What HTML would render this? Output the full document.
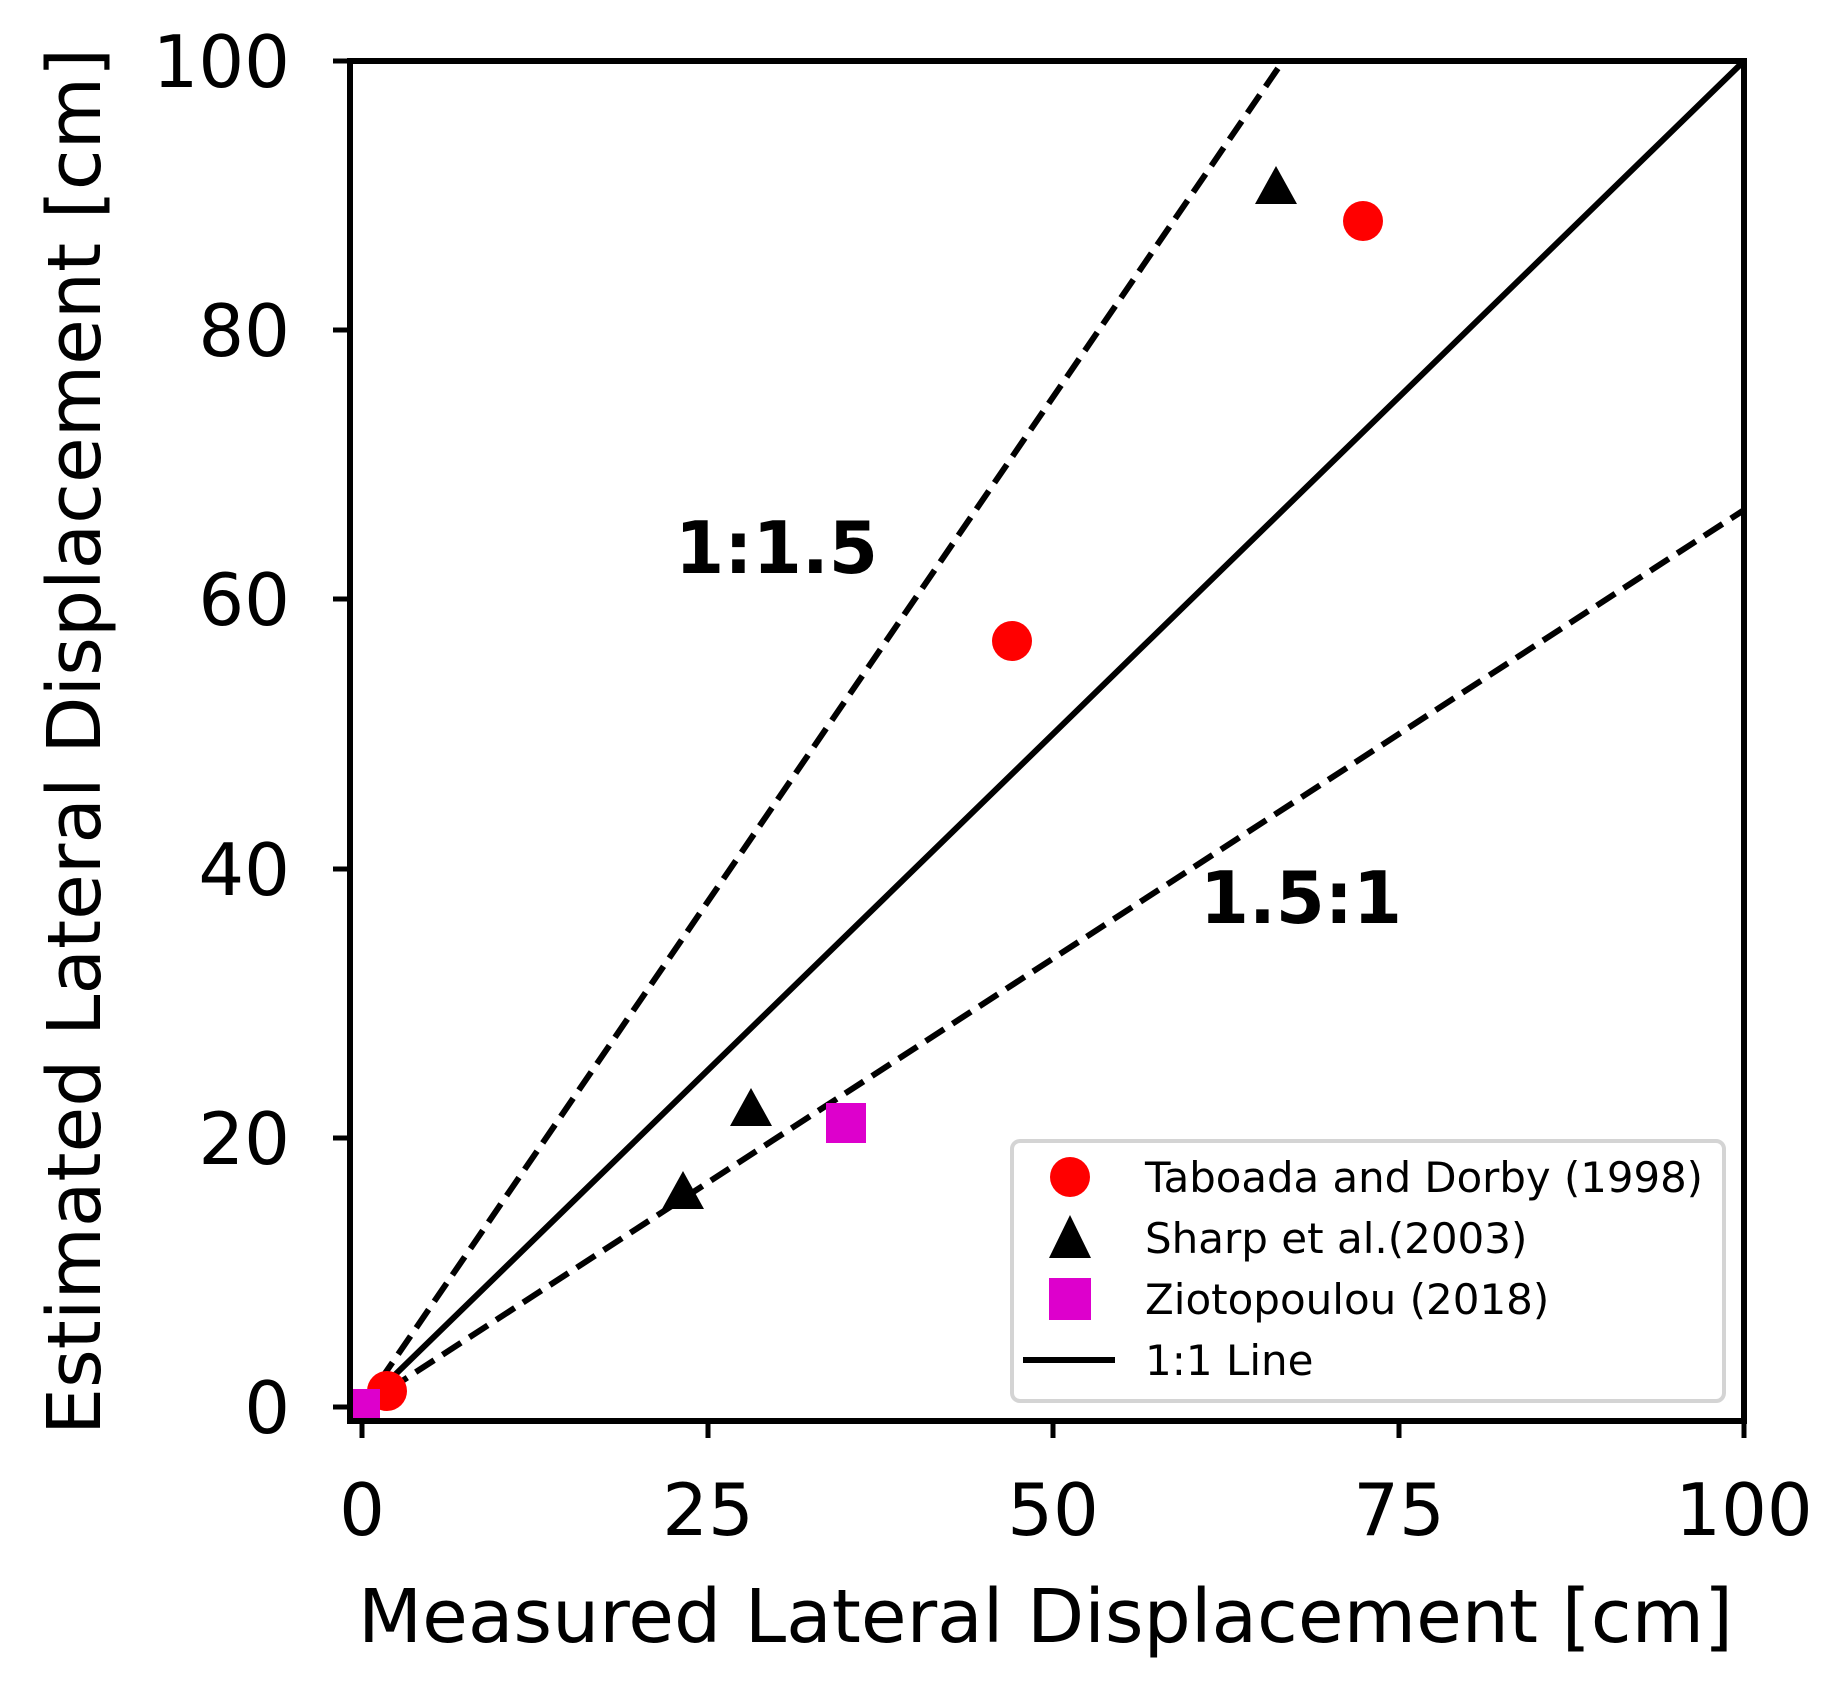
<!DOCTYPE html>
<html><head><meta charset="utf-8"><style>
html,body{margin:0;padding:0;background:#fff;}
svg{display:block;}
text{font-family:"DejaVu Sans","Liberation Sans",sans-serif;fill:#000;}
</style></head><body>
<svg width="1843" height="1693" viewBox="0 0 1843 1693" xmlns="http://www.w3.org/2000/svg">
<defs><clipPath id="c"><rect x="350" y="61" width="1394" height="1360"/></clipPath></defs>
<g clip-path="url(#c)">
<line x1="362" y1="1407" x2="1744" y2="61" stroke="#000" stroke-width="6"/>
<line x1="362" y1="1407" x2="1283" y2="61" stroke="#000" stroke-width="6" stroke-dasharray="22,10"/>
<line x1="362" y1="1407" x2="1744" y2="510" stroke="#000" stroke-width="6" stroke-dasharray="22,10"/>
<circle cx="1363" cy="221" r="20" fill="#ff0000"/>
<circle cx="1012" cy="641" r="20" fill="#ff0000"/>
<circle cx="387" cy="1391" r="20" fill="#ff0000"/>
<polygon points="1276,166 1297,204 1255,204" fill="#000"/>
<polygon points="751,1088 772,1126 730,1126" fill="#000"/>
<polygon points="683,1171 704,1209 662,1209" fill="#000"/>
<rect x="826" y="1103" width="40" height="40" fill="#dd00cc"/>
<rect x="344" y="1389" width="36" height="36" fill="#dd00cc"/>
</g>
<rect x="350" y="61" width="1394" height="1360" fill="none" stroke="#000" stroke-width="6"/>
<g stroke="#000" stroke-width="5">
<line x1="333" y1="1407" x2="350" y2="1407"/>
<line x1="333" y1="1138" x2="350" y2="1138"/>
<line x1="333" y1="869" x2="350" y2="869"/>
<line x1="333" y1="599" x2="350" y2="599"/>
<line x1="333" y1="330" x2="350" y2="330"/>
<line x1="333" y1="61" x2="350" y2="61"/>
<line x1="362" y1="1421" x2="362" y2="1438"/>
<line x1="708" y1="1421" x2="708" y2="1438"/>
<line x1="1053" y1="1421" x2="1053" y2="1438"/>
<line x1="1399" y1="1421" x2="1399" y2="1438"/>
<line x1="1744" y1="1421" x2="1744" y2="1438"/>
</g>
<g font-size="72" text-anchor="end">
<text x="290" y="1433">0</text>
<text x="290" y="1164">20</text>
<text x="290" y="895">40</text>
<text x="290" y="625">60</text>
<text x="290" y="356">80</text>
<text x="290" y="87">100</text>
</g>
<g font-size="72" text-anchor="middle">
<text x="362" y="1535">0</text>
<text x="708" y="1535">25</text>
<text x="1053" y="1535">50</text>
<text x="1399" y="1535">75</text>
<text x="1744" y="1535">100</text>
</g>
<text x="358" y="1642" font-size="74" textLength="1375" lengthAdjust="spacingAndGlyphs">Measured Lateral Displacement [cm]</text>
<text transform="translate(100,1435) rotate(-90)" font-size="74" textLength="1387" lengthAdjust="spacingAndGlyphs">Estimated Lateral Displacement [cm]</text>
<text x="675" y="573" font-size="72" font-weight="bold" textLength="203" lengthAdjust="spacingAndGlyphs">1:1.5</text>
<text x="1200" y="923" font-size="72" font-weight="bold" textLength="202" lengthAdjust="spacingAndGlyphs">1.5:1</text>
<rect x="1012" y="1141" width="712" height="260" rx="8" fill="#fff" stroke="#d4d4d4" stroke-width="4"/>
<circle cx="1070" cy="1177" r="20" fill="#ff0000"/>
<polygon points="1070,1215 1091,1258 1049,1258" fill="#000"/>
<rect x="1049" y="1278" width="42" height="42" fill="#dd00cc"/>
<line x1="1023" y1="1360" x2="1115" y2="1360" stroke="#000" stroke-width="6"/>
<g font-size="42">
<text x="1145" y="1192" textLength="558" lengthAdjust="spacingAndGlyphs">Taboada and Dorby (1998)</text>
<text x="1145" y="1253">Sharp et al.(2003)</text>
<text x="1145" y="1314">Ziotopoulou (2018)</text>
<text x="1145" y="1375">1:1 Line</text>
</g>
</svg>
</body></html>
